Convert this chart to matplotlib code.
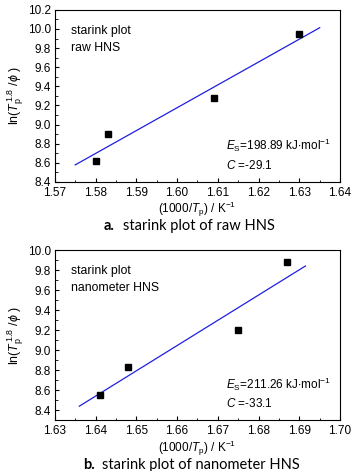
import numpy as np
import matplotlib
matplotlib.use('Agg')
import matplotlib.pyplot as plt
from matplotlib.ticker import MultipleLocator

plt.rcParams['font.family'] = ['Liberation Sans', 'DejaVu Sans']
plt.rcParams['mathtext.fontset'] = 'custom'
plt.rcParams['mathtext.rm'] = 'Liberation Sans'
plt.rcParams['mathtext.it'] = 'Liberation Sans:italic'

# raw HNS
x_raw = [1.580, 1.583, 1.609, 1.630]
y_raw = [8.62, 8.90, 9.28, 9.95]
fit_x_raw = [1.575, 1.635]

# nanometer HNS
x_nano = [1.641, 1.648, 1.675, 1.687]
y_nano = [8.55, 8.83, 9.20, 9.88]
fit_x_nano = [1.636, 1.6915]

panels = [
    dict(x=x_raw, y=y_raw, fx=fit_x_raw, xlim=(1.57, 1.64), ylim=(8.4, 10.2),
         name='raw HNS', es='198.89', c='-29.1', cap_b='a.',
         cap='starink plot of raw HNS', rect=[0.152, 0.614, 0.790, 0.365],
         cap_y=1 - 226 / 471, cap_x=(104 / 361, 123 / 361)),
    dict(x=x_nano, y=y_nano, fx=fit_x_nano, xlim=(1.63, 1.70), ylim=(8.3, 10.0),
         name='nanometer HNS', es='211.26', c='-33.1', cap_b='b.',
         cap='starink plot of nanometer HNS', rect=[0.152, 0.108, 0.790, 0.361],
         cap_y=1 - 465 / 471, cap_x=(83 / 361, 102 / 361)),
]

fig = plt.figure(figsize=(3.61, 4.71), dpi=100)

for p in panels:
    ax = fig.add_axes(p['rect'])
    slope, icpt = np.polyfit(p['x'], p['y'], 1)
    fx = np.array(p['fx'])
    ax.plot(fx, slope * fx + icpt, color='#1f1fe0', lw=0.9)
    ax.plot(p['x'], p['y'], 's', color='black', ms=4.5)
    ax.set_xlim(*p['xlim'])
    ax.set_ylim(*p['ylim'])
    ax.xaxis.set_major_locator(MultipleLocator(0.01))
    ax.xaxis.set_minor_locator(MultipleLocator(0.005))
    ax.yaxis.set_major_locator(MultipleLocator(0.2))
    ax.yaxis.set_minor_locator(MultipleLocator(0.1))
    ax.xaxis.set_major_formatter(matplotlib.ticker.FormatStrFormatter('%.2f'))
    ax.yaxis.set_major_formatter(matplotlib.ticker.FormatStrFormatter('%.1f'))
    ax.tick_params(which='both', direction='in', labelsize=8.5)
    ax.tick_params(axis='x', pad=3.5)
    ax.tick_params(axis='y', pad=3)
    ax.tick_params(which='major', length=3)
    ax.tick_params(which='minor', length=1.8)
    for s in ax.spines.values():
        s.set_linewidth(0.8)
    ax.set_xlabel(r'(1000/$\it{T}_{\rm p}$) / K$^{-1}$', fontsize=8.5, labelpad=1)
    ax.set_ylabel(r'ln($\it{T}_{\rm p}^{\,1.8}$ /$\it{\phi}$ )', fontsize=9, labelpad=1)
    ax.text(0.055, 0.88, 'starink plot', transform=ax.transAxes, fontsize=8.8, va='center')
    ax.text(0.055, 0.78, p['name'], transform=ax.transAxes, fontsize=8.8, va='center')
    ax.text(0.60, 0.21, r'$\it{E}_{\rm S}$=' + p['es'] + r' kJ$\cdot$mol$^{-1}$',
            transform=ax.transAxes, fontsize=8.5, va='center')
    ax.text(0.60, 0.095, r'$\it{C}$ =' + p['c'], transform=ax.transAxes,
            fontsize=8.5, va='center')
    fig.text(p['cap_x'][0], p['cap_y'], p['cap_b'], ha='left', va='center',
             fontsize=10.5, fontweight='bold', family=['Lato', 'DejaVu Sans'])
    fig.text(p['cap_x'][1], p['cap_y'], p['cap'], ha='left', va='center',
             fontsize=10.5, family=['Lato', 'DejaVu Sans'])

fig.savefig('out.png', dpi=100)
